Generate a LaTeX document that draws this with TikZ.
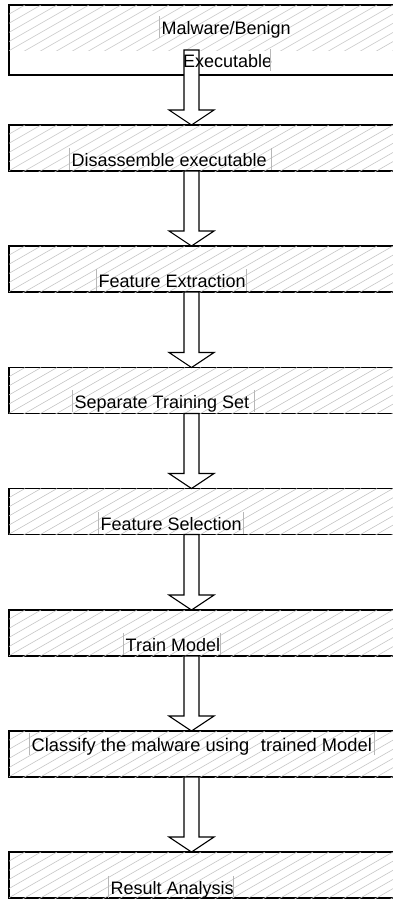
\documentclass[tikz,border=0pt]{standalone}
\usepackage{fontspec}
\setmainfont{Liberation Sans}
\usetikzlibrary{calc}

\tikzset{
  stepbox/.style={draw=black, line width=1.2pt, rectangle, minimum width=391pt,
    minimum height=46pt, inner sep=0pt, outer sep=0pt},
  hatchline/.style={draw=black!24, line width=0.55pt},
  blockarrow/.style={draw=black, line width=1.1pt, fill=white, line join=miter},
  steplabel/.style={inner sep=0pt, anchor=base west, font=\fontsize{18}{21}\selectfont},
  framebar/.style={draw=black!28, line width=0.6pt},
}

% diagonal hatching in the top #2 pt of box #1
\newcommand\hatchbox[2]{%
  \begin{scope}
    \clip (#1.north west) rectangle ([yshift=-#2pt]#1.north east);
    \foreach \k in {0,...,32}
      \draw[hatchline] ([xshift=\k*16pt]#1.north west) -- ++(-112pt,-64pt);
  \end{scope}}

% hollow block arrow from #1 down to #2
\newcommand\flowarrow[2]{%
  \path[blockarrow] let \p1=(#1), \p2=(#2) in
    (\x1-7.5pt,\y1) -- (\x1-7.5pt,\y2+15pt) -- (\x1-22.5pt,\y2+15pt) -- (\x1,\y2)
    -- (\x1+22.5pt,\y2+15pt) -- (\x1+7.5pt,\y2+15pt) -- (\x1+7.5pt,\y1) -- cycle;}

\begin{document}
\begin{tikzpicture}[x=1pt, y=-1pt]
\useasboundingbox (0,0) rectangle (393,900);
\fill[white] (0,0) rectangle (393,900);

% process boxes
\node[stepbox, minimum height=70pt] (b1) at (204.5,40) {};
\node[stepbox] (b2) at (204.5,148) {};
\node[stepbox] (b3) at (204.5,269) {};
\node[stepbox] (b4) at (204.5,390.5) {};
\node[stepbox] (b5) at (204.5,511.5) {};
\node[stepbox] (b6) at (204.5,633) {};
\node[stepbox] (b7) at (204.5,754) {};
\node[stepbox] (b8) at (204.5,875) {};

\hatchbox{b1}{45}
\foreach \b in {b2,b3,b4,b5,b6,b7,b8} {\hatchbox{\b}{46}}

% arrow axis and the start of the first arrow inside the top box
\coordinate (axis) at (191.5,0);
\coordinate (a0) at (191.5,50);

\flowarrow{a0}{b2.north -| axis}
\flowarrow{b2.south -| axis}{b3.north -| axis}
\flowarrow{b3.south -| axis}{b4.north -| axis}
\flowarrow{b4.south -| axis}{b5.north -| axis}
\flowarrow{b5.south -| axis}{b6.north -| axis}
\flowarrow{b6.south -| axis}{b7.north -| axis}
\flowarrow{b7.south -| axis}{b8.north -| axis}

% labels
\node[steplabel] (t1a) at (161.5,34) {Malware/Benign};
\node[steplabel] (t1b) at (183,67) {Executable};
\node[steplabel] (t2) at (71.5,166) {Disassemble executable};
\node[steplabel] (t3) at (98.5,287) {Feature Extraction};
\node[steplabel] (t4) at (74.5,408) {Separate Training Set};
\node[steplabel] (t5) at (100.5,530) {Feature Selection};
\node[steplabel] (t6) at (125.5,651) {Train Model};
\node[steplabel, font=\fontsize{18.3}{21}\selectfont] (t7) at (31.5,751)
  {Classify the malware using\ \ \hspace{1.5pt}trained Model};
\node[steplabel] (t8) at (110.5,894) {Result Analysis};

% text frame edges
\draw[framebar] (159,16) -- (159,38);
\draw[framebar] (270,49) -- (270,71);
\foreach \l/\r/\bl in {69/271/166, 96/246/287, 72/254/408, 98/243/530,
                       123/220/651, 29/374/751, 108/233/894} {
  \draw[framebar] (\l,\bl-18) -- (\l,\bl+4);
  \draw[framebar] (\r,\bl-18) -- (\r,\bl+4);
}
\end{tikzpicture}
\end{document}
